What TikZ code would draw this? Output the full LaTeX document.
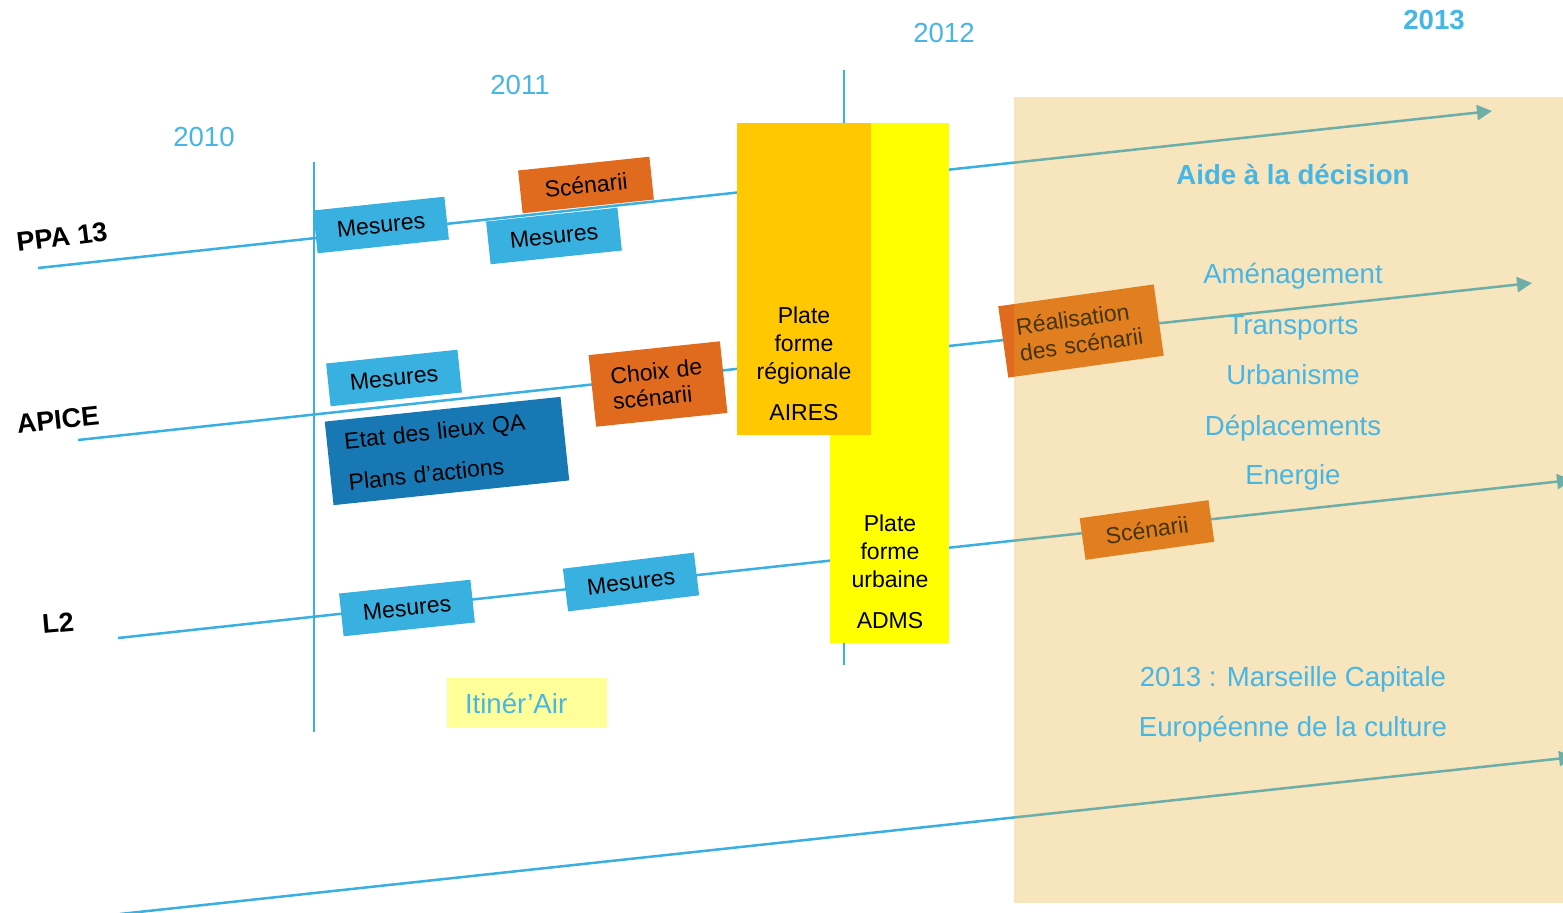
\documentclass[tikz,border=0pt]{standalone}
\usepackage{fontspec}
\setmainfont{Liberation Sans}
\usetikzlibrary{arrows.meta}
\definecolor{lineblue}{RGB}{58,175,226}
\definecolor{boxblue}{RGB}{56,177,224}
\definecolor{darkblue}{RGB}{24,120,180}
\definecolor{orangeb}{RGB}{224,107,30}
\definecolor{gold}{RGB}{255,200,0}
\definecolor{yel}{RGB}{255,255,0}
\definecolor{paley}{RGB}{255,255,153}
\definecolor{txtblue}{RGB}{72,182,228}
\definecolor{ovl}{RGB}{228,172,38}
\begin{document}
\begin{tikzpicture}[x=0.2mm,y=-0.2mm,
  tl/.style={draw=lineblue, line width=0.5mm},
  tla/.style={tl, -{Triangle[length=3mm,width=3mm]}},
  vl/.style={draw=lineblue, line width=0.3mm},
  boxtxt/.style={font=\fontsize{13.1}{15.7}\selectfont, text=black},
  card/.style={boxtxt, rotate=6, inner sep=0pt, minimum width=26.4mm, minimum height=8.6mm},
  mes/.style={card, fill=boxblue},
  orb/.style={card, fill=orangeb},
  year/.style={font=\fontsize{15.7}{18}\selectfont, text=txtblue, anchor=base},
  themetxt/.style={font=\fontsize{15.7}{18}\selectfont, text=txtblue, anchor=base},
  rowlab/.style={font=\bfseries\fontsize{15.4}{18}\selectfont, text=black},
  plat/.style={boxtxt, align=center}
]
\useasboundingbox (0,0) rectangle (1563,913);
\fill[white] (0,0) rectangle (1563,913);

% year labels
\node[year] (y2010) at (204,146) {2010};
\node[year] (y2011) at (520,94) {2011};
\node[year] (y2012) at (944,42) {2012};
\node[year, font=\bfseries\fontsize{15.7}{18}\selectfont] (y2013) at (1434,29) {2013};

% vertical markers
\coordinate (v1a) at (314,162); \coordinate (v1b) at (314,732);
\coordinate (v2a) at (844,70);  \coordinate (v2b) at (844,665);
\draw[vl] (v1a) -- (v1b);
\draw[vl] (v2a) -- (v2b);

% timelines
\coordinate (ppaS) at (38,268);  \coordinate (ppaE) at (1492,111);
\coordinate (apS) at (78,440);   \coordinate (apE) at (1532,283);
\coordinate (l2S) at (118,638);  \coordinate (l2E) at (1572,480);
\coordinate (botS) at (120,914); \coordinate (botE) at (1574,757);
\draw[tla] (ppaS) -- (ppaE);
\draw[tla] (apS) -- (apE);
\draw[tla] (l2S) -- (l2E);
\draw[tla] (botS) -- (botE);

% row labels
\node[rowlab, rotate=7] (ppa) at (62,237) {PPA 13};
\node[rowlab, rotate=6] (apice) at (58,420) {APICE};
\node[rowlab, rotate=5] (l2) at (58,623) {L2};

% PPA boxes
\node[mes] (m1) at (381,225) {Mesures};
\node[orb] (sc1) at (586,185) {Scénarii};
\node[mes] (m2) at (554,236) {Mesures};

% APICE boxes
\node[mes] (m3) at (394,378) {Mesures};
\node[card, fill=darkblue, minimum width=47.4mm, minimum height=16.8mm,
      text width=40.4mm, align=left] (etat) at (447,451)
      {Etat des lieux QA\\[7.9pt]Plans d’actions};
\node[orb, minimum height=14.4mm, text width=18.6mm, align=left,
      font=\fontsize{13.1}{14.8}\selectfont] (choix) at (658,384) {Choix de\\ scénarii};

% L2 boxes
\node[mes] (m4) at (407,608) {Mesures};
\node[mes, rotate=1] (m5) at (631,582) {Mesures};

% platforms
\node[fill=yel, anchor=north west, minimum width=23.8mm, minimum height=104mm, inner sep=0pt] (adms) at (830,123) {};
\node[fill=gold, anchor=north west, minimum width=26.8mm, minimum height=62.4mm, inner sep=0pt] (aires) at (737,123) {};
\node[plat] (airestxt) at (804,364) {Plate\\forme\\régionale\\[8pt]AIRES};
\node[plat] (admstxt) at (890,572) {Plate\\forme\\urbaine\\[8pt]ADMS};

% Itinér'Air
\node[fill=paley, minimum height=10mm, text width=24.8mm, inner xsep=3.6mm, inner ysep=0pt,
      align=left, font=\fontsize{15.7}{18}\selectfont, text=txtblue] (itin) at (527,703) {Itinér’Air};

% right side boxes
\node[orb, rotate=2, minimum width=31.4mm, minimum height=14.4mm, text width=25.4mm, align=left,
      font=\fontsize{13.1}{15}\selectfont] (real) at (1081,331) {Réalisation\\des scénarii};
\node[orb, rotate=2, minimum width=26mm, minimum height=8.4mm] (sc2) at (1147,530) {Scénarii};

% 2013 zone overlay
\fill[ovl, opacity=0.3] (1014,97) rectangle (1563,903);

% 2013 texts
\node[themetxt, font=\bfseries\fontsize{15.7}{18}\selectfont] (aide) at (1293,184) {Aide à la décision};
\node[themetxt] (amen) at (1293,283) {Aménagement};
\node[themetxt] (trans) at (1293,334) {Transports};
\node[themetxt] (urba) at (1293,384) {Urbanisme};
\node[themetxt] (depl) at (1293,435) {Déplacements};
\node[themetxt] (ener) at (1293,484) {Energie};
\node[themetxt] (mars) at (1293,686) {2013 : Marseille Capitale};
\node[themetxt] (euro) at (1293,736) {Européenne de la culture};
\end{tikzpicture}
\end{document}
